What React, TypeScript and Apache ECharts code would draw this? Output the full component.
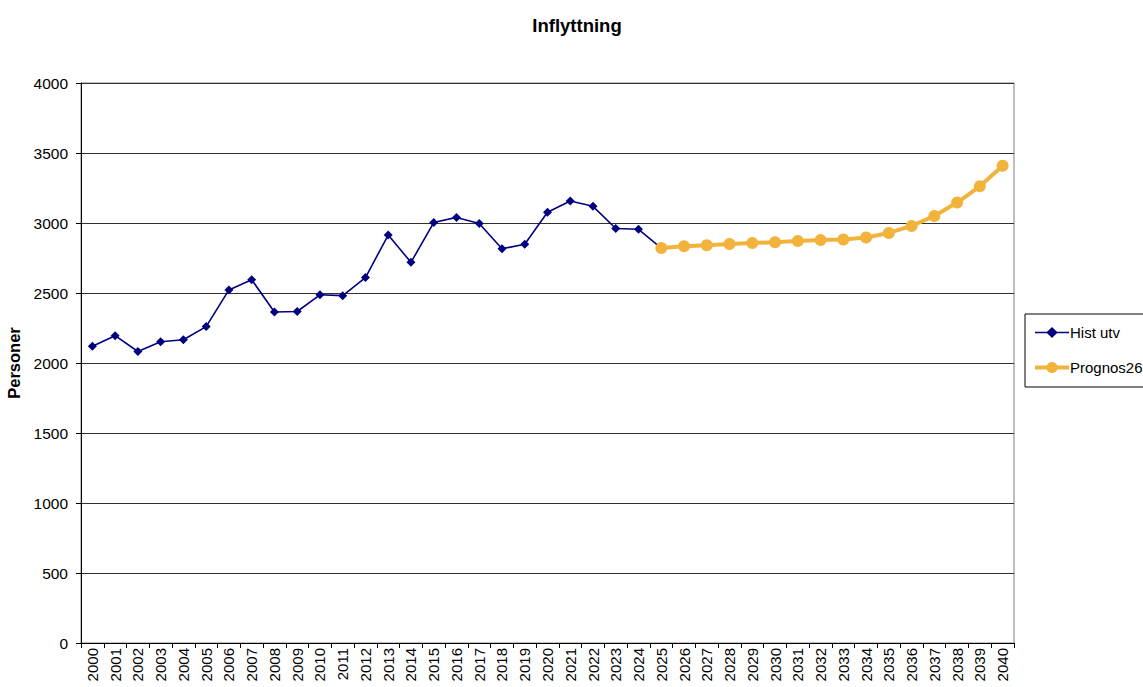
import React, { useEffect, useRef } from "react";
import * as echarts from "echarts";

const years: string[] = [];
for (let y = 2000; y <= 2040; y++) years.push(String(y));

const histValues: (number | null)[] = [
  2119, 2195, 2082, 2152, 2166, 2260, 2522, 2595, 2364, 2368,
  2487, 2481, 2610, 2914, 2719, 3003, 3040, 2997, 2816, 2848,
  3077, 3157, 3119, 2961, 2955, 2821,
];

const prognosValues: number[] = [
  2821, 2834, 2841, 2850, 2857, 2863, 2871, 2878, 2882, 2896,
  2929, 2979, 3050, 3146, 3262, 3409,
];

const yTicks = [0, 500, 1000, 1500, 2000, 2500, 3000, 3500, 4000];

const FONT = "Liberation Sans, Arial, sans-serif";
const HIST_COLOR = "#000080";
const PROG_COLOR = "#F2B33D";

export default function App() {
  const ref = useRef<HTMLDivElement>(null);
  useEffect(() => {
    document.body.style.margin = "0";
    if (!ref.current) return;
    const chart = echarts.init(ref.current, undefined, { renderer: "svg" });
    const histData = years.map((_, i) => (i < histValues.length ? histValues[i] : null));
    const progStart = years.length - prognosValues.length;
    const progData = years.map((_, i) => (i >= progStart ? prognosValues[i - progStart] : null));
    chart.setOption({
      animation: false,
      backgroundColor: "#ffffff",
      textStyle: { fontFamily: FONT },
      title: {
        text: "Inflyttning",
        left: 572,
        textAlign: "center",
        top: 11,
        textStyle: { fontFamily: FONT, fontSize: 18.5, fontWeight: "bold", color: "#000" },
      },
      grid: {
        left: 81,
        right: 129,
        top: 83,
        bottom: 44,
        outerBoundsMode: "none",
        containLabel: false,
        show: true,
        borderColor: "#808080",
        borderWidth: 1,
        backgroundColor: "#ffffff",
      },
      legend: {
        orient: "vertical",
        left: 1025,
        top: 314,
        padding: [11, 40, 12, 8],
        itemGap: 20,
        itemWidth: 34,
        itemHeight: 14,
        borderColor: "#000",
        borderWidth: 1,
        textStyle: { fontFamily: FONT, fontSize: 15, color: "#000", padding: [0, 0, 0, -4] },
        data: [
          {
            name: "Hist utv",
            itemStyle: { color: HIST_COLOR },
            lineStyle: { color: HIST_COLOR, width: 1.6 },
          },
          {
            name: "Prognos26",
            itemStyle: { color: PROG_COLOR },
            lineStyle: { color: PROG_COLOR, width: 4 },
          },
        ],
      },
      xAxis: {
        type: "category",
        data: years,
        boundaryGap: true,
        axisLine: { show: true, lineStyle: { color: "#000", width: 1 } },
        axisTick: { show: true, inside: false, length: 5, alignWithLabel: false, lineStyle: { color: "#000" } },
        axisLabel: {
          rotate: 90,
          interval: 0,
          margin: 5,
          fontFamily: FONT,
          fontSize: 15,
          color: "#000",
        },
        splitLine: { show: false },
      },
      yAxis: {
        type: "value",
        min: yTicks[0],
        max: yTicks[yTicks.length - 1],
        interval: 500,
        name: "Personer",
        nameLocation: "middle",
        nameGap: 55,
        nameRotate: 90,
        nameTextStyle: { fontFamily: FONT, fontSize: 16.5, fontWeight: "bold", color: "#000" },
        axisLine: { show: true, lineStyle: { color: "#000", width: 1 } },
        axisTick: { show: true, inside: false, length: 5, lineStyle: { color: "#000" } },
        axisLabel: {
          fontFamily: FONT,
          fontSize: 15.5,
          color: "#000",
          margin: 13,
          formatter: (v: number) => String(v),
        },
        splitLine: { show: true, lineStyle: { color: "#303030", width: 1 } },
      },
      series: [
        {
          name: "Hist utv",
          type: "line",
          data: histData,
          connectNulls: false,
          symbol: "diamond",
          symbolSize: 9,
          itemStyle: { color: HIST_COLOR },
          lineStyle: { color: HIST_COLOR, width: 1.6 },
          z: 2,
        },
        {
          name: "Prognos26",
          type: "line",
          data: progData,
          connectNulls: false,
          symbol: "circle",
          symbolSize: 12,
          itemStyle: { color: PROG_COLOR },
          lineStyle: { color: PROG_COLOR, width: 4 },
          z: 3,
        },
      ],
    });
    return () => chart.dispose();
  }, []);
  return <div ref={ref} style={{ width: 1143, height: 687 }} />;
}
